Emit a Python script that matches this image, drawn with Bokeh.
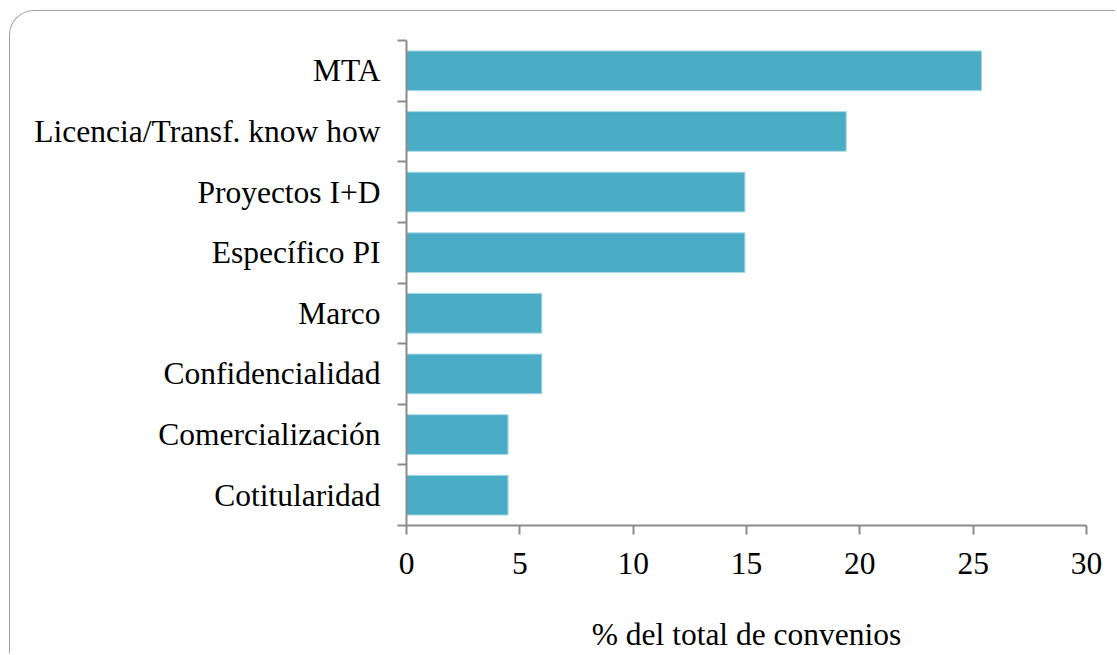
from bokeh.plotting import figure
from bokeh.models import FixedTicker, Range1d, ColumnDataSource
from bokeh.embed import file_html
from bokeh.resources import INLINE

# Data (top to bottom)
categories = ["MTA", "Licencia/Transf. know how", "Proyectos I+D", "Específico PI",
              "Marco", "Confidencialidad", "Comercialización", "Cotitularidad"]
values = [25.37, 19.40, 14.93, 14.93, 5.97, 5.97, 4.48, 4.48]
x_ticks = [0, 5, 10, 15, 20, 25, 30]
x_title = "% del total de convenios"

n = len(categories)
ypos = [n - i - 0.5 for i in range(n)]
src = ColumnDataSource(dict(y=ypos, v=values, cat=categories))

FONT = "Liberation Serif"
FSIZE = "31.5px"
AXIS_COLOR = "#8c8c8c"

p = figure(width=1106, height=643, output_backend="svg", toolbar_location=None,
           x_range=Range1d(x_ticks[0], x_ticks[-1]), y_range=Range1d(0, n),
           min_border_left=396, min_border_right=30, min_border_top=29,
           min_border_bottom=128)
p.outline_line_color = None
p.xgrid.grid_line_color = None
p.ygrid.grid_line_color = None
p.background_fill_color = None
p.border_fill_color = None
# rounded chart-area border (only its top/left parts fall inside the window)
p.styles = {"border-left": "1.5px solid #a0a0a0",
            "border-top": "1.5px solid #a0a0a0",
            "border-top-left-radius": "25px",
            "margin-left": "9px", "margin-top": "10px"}

p.hbar(y="y", right="v", left=0, height=0.655, source=src,
       fill_color="#4BACC6", line_color="#a8d8e6", line_width=1)

# x axis
xa = p.xaxis[0]
xa.ticker = FixedTicker(ticks=x_ticks, minor_ticks=[])
xa.axis_line_color = AXIS_COLOR
xa.axis_line_width = 2
xa.major_tick_line_color = AXIS_COLOR
xa.major_tick_line_width = 2
xa.major_tick_in = 0
xa.major_tick_out = 9
xa.major_label_text_font = FONT
xa.major_label_text_font_size = FSIZE
xa.major_label_text_color = "black"
xa.major_label_standoff = 18
xa.axis_label = x_title
xa.axis_label_text_font = FONT
xa.axis_label_text_font_size = FSIZE
xa.axis_label_text_font_style = "normal"
xa.axis_label_text_color = "black"
xa.axis_label_standoff = 40

# y axis: labels at band centers, ticks at band boundaries
ya = p.yaxis[0]
ya.ticker = FixedTicker(ticks=ypos, minor_ticks=list(range(n + 1)))
ya.major_label_overrides = {y: c for y, c in zip(ypos, categories)}
ya.axis_line_color = AXIS_COLOR
ya.axis_line_width = 2
ya.major_tick_line_color = None
ya.major_tick_in = 0
ya.major_tick_out = 0
ya.minor_tick_line_color = AXIS_COLOR
ya.minor_tick_line_width = 2
ya.minor_tick_in = 0
ya.minor_tick_out = 9
ya.major_label_text_font = FONT
ya.major_label_text_font_size = FSIZE
ya.major_label_text_color = "black"
ya.major_label_standoff = 17

open("out.html", "w").write(file_html(p, INLINE))
